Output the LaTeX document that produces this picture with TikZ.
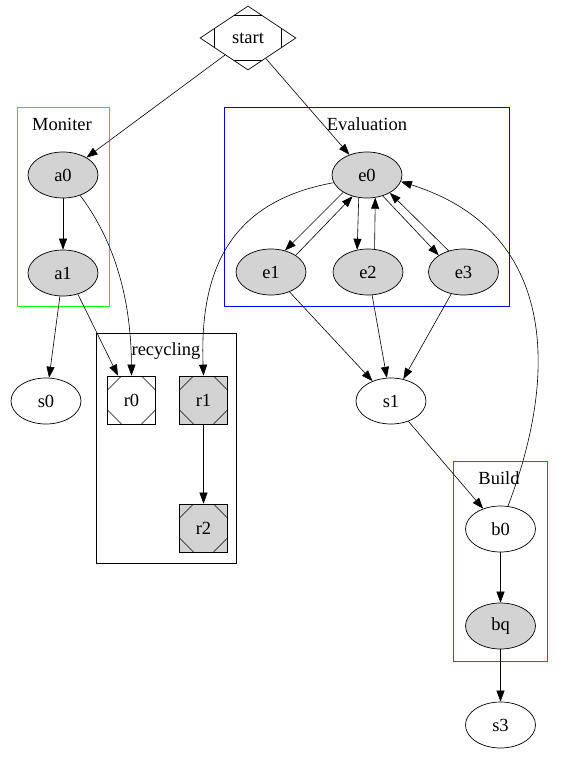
\documentclass[tikz,border=0pt]{standalone}
\usepackage{fontspec}
\setmainfont{Liberation Serif}
\usetikzlibrary{shapes.geometric,arrows.meta,calc}
\definecolor{lgray}{HTML}{D3D3D3}
\definecolor{gvpurple}{HTML}{A020F0}
\begin{document}
\begin{tikzpicture}[x=1pt,y=-1pt,
  every node/.style={font=\fontsize{18.5}{18.5}\selectfont},
  ell/.style={draw,ellipse,minimum width=70pt,minimum height=46pt,inner sep=0pt,line width=0.7pt},
  gell/.style={ell,fill=lgray},
  msq/.style={draw,rectangle,minimum width=48pt,minimum height=48pt,inner sep=0pt,line width=0.7pt,
    path picture={
      \draw[line width=0.6pt] ($(path picture bounding box.north west)+(0,14)$) -- ($(path picture bounding box.north west)+(14,0)$);
      \draw[line width=0.6pt] ($(path picture bounding box.north east)+(0,14)$) -- ($(path picture bounding box.north east)+(-14,0)$);
      \draw[line width=0.6pt] ($(path picture bounding box.south west)+(0,-14)$) -- ($(path picture bounding box.south west)+(14,0)$);
      \draw[line width=0.6pt] ($(path picture bounding box.south east)+(0,-14)$) -- ($(path picture bounding box.south east)+(-14,0)$);
    }},
  mdia/.style={draw,diamond,minimum width=96pt,minimum height=64pt,inner sep=0pt,line width=0.7pt,
    path picture={
      \coordinate (N) at (path picture bounding box.north);
      \coordinate (S) at (path picture bounding box.south);
      \coordinate (W) at (path picture bounding box.west);
      \coordinate (E) at (path picture bounding box.east);
      \draw[line width=0.6pt] ($(N)!0.3!(W)$) -- ($(N)!0.3!(E)$);
      \draw[line width=0.6pt] ($(S)!0.3!(W)$) -- ($(S)!0.3!(E)$);
      \draw[line width=0.6pt] ($(W)!0.3!(N)$) -- ($(W)!0.3!(S)$);
      \draw[line width=0.6pt] ($(E)!0.3!(N)$) -- ($(E)!0.3!(S)$);
    }},
  cluster/.style={draw,rectangle,inner sep=0pt,line width=0.8pt},
  edge/.style={draw,line width=0.6pt,-{Triangle[length=11pt,width=8pt]}}
]
\useasboundingbox (0,0) rectangle (569,765);

% clusters
\node[cluster,draw=green,minimum width=92pt,minimum height=199pt] (cM) at (63,206.5) {};
\node (lM) at (62,124) {Moniter};
\node[cluster,draw=blue,minimum width=285pt,minimum height=199pt] (cE) at (366.5,206.5) {};
\node (lE) at (367,124) {Evaluation};
\node[cluster,draw=black,minimum width=140pt,minimum height=230pt] (cR) at (166,448) {};
\node (lR) at (166,351) {recycling};
\node[cluster,draw=gvpurple,minimum width=94pt,minimum height=200pt] (cB) at (500,561) {};
\node (lB) at (499,478) {Build};

% nodes
\node[mdia] (start) at (248,38) {start};
\node[gell] (a0) at (63,175) {a0};
\node[gell] (a1) at (63,273) {a1};
\node[ell] (s0) at (46,401) {s0};
\node[msq] (r0) at (131.5,400) {r0};
\node[msq,fill=lgray] (r1) at (203.5,400) {r1};
\node[msq,fill=lgray] (r2) at (203.5,528) {r2};
\node[gell] (e0) at (367,175) {e0};
\node[gell] (e1) at (271,272) {e1};
\node[gell] (e2) at (368,272) {e2};
\node[gell] (e3) at (463.5,272) {e3};
\node[ell] (s1) at (391,401) {s1};
\node[ell] (b0) at (500.5,529) {b0};
\node[gell] (bq) at (500.5,626) {bq};
\node[ell] (s3) at (500.5,725) {s3};

% edges
\draw[edge] (start) -- (a0);
\draw[edge] (start) -- (e0);
\draw[edge] (a0) -- (a1);
\draw[edge] (a0.-50) .. controls (110,235) and (131,290) .. (r0.north);
\draw[edge] (a1) -- (s0);
\draw[edge] (a1.-55) -- (r0.119);
\draw[edge] (e0.193) .. controls (238,200) and (199,260) .. (r1.north);
\draw[edge] (e0.216) -- (e1.57);
\draw[edge] (e1.34) -- (e0.236);
\draw[edge] (e0.250) -- (e2.116);
\draw[edge] (e2.74) -- (e0.290);
\draw[edge] (e0.307) -- (e3.146);
\draw[edge] (e3.125) -- (e0.322);
\draw[edge] (b0.72) .. controls (560,370) and (555,230) .. (e0.-11);
\draw[edge] (e1) -- (s1);
\draw[edge] (e2) -- (s1);
\draw[edge] (e3) -- (s1);
\draw[edge] (s1) -- (b0);
\draw[edge] (r1) -- (r2);
\draw[edge] (b0) -- (bq);
\draw[edge] (bq) -- (s3);
\end{tikzpicture}
\end{document}
